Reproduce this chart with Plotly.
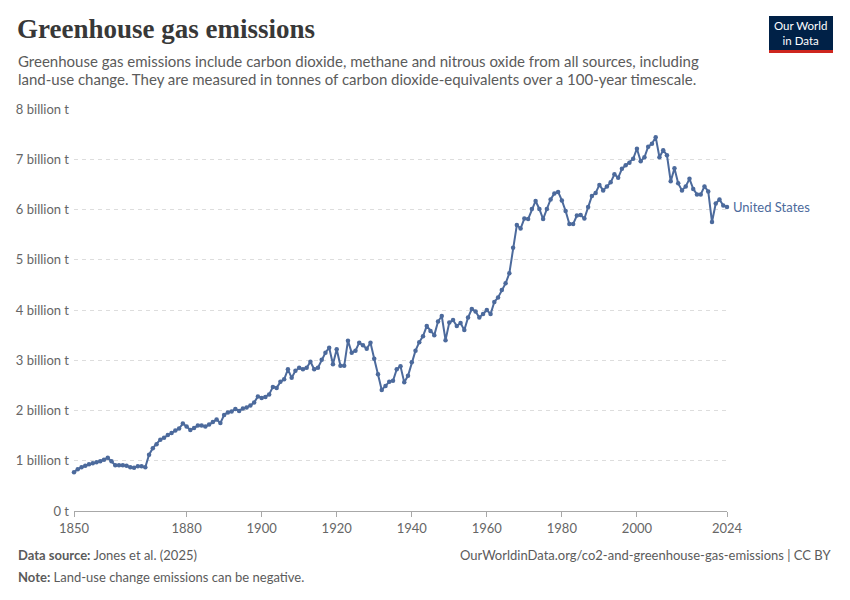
import plotly.graph_objects as go

# US greenhouse gas emissions, billion tonnes CO2-eq
years = list(range(1850, 2025))
emissions = [
    0.77, 0.83, 0.87, 0.90, 0.93, 0.95, 0.97, 0.99, 1.02, 1.06,  # 1850s
    0.99, 0.91, 0.91, 0.91, 0.90, 0.87, 0.86, 0.89, 0.89, 0.87,  # 1860s
    1.12, 1.25, 1.33, 1.42, 1.46, 1.51, 1.55, 1.60, 1.64, 1.74,  # 1870s
    1.68, 1.61, 1.65, 1.70, 1.70, 1.68, 1.72, 1.77, 1.82, 1.75,  # 1880s
    1.91, 1.96, 1.98, 2.03, 1.99, 2.04, 2.06, 2.10, 2.16, 2.28,  # 1890s
    2.25, 2.27, 2.32, 2.47, 2.45, 2.57, 2.62, 2.82, 2.65, 2.79,  # 1900s
    2.85, 2.82, 2.85, 2.97, 2.82, 2.85, 3.01, 3.15, 3.25, 2.92,  # 1910s
    3.22, 2.89, 2.89, 3.39, 3.15, 3.19, 3.35, 3.30, 3.23, 3.35,  # 1920s
    3.03, 2.72, 2.41, 2.49, 2.57, 2.59, 2.82, 2.88, 2.56, 2.69,  # 1930s
    2.96, 3.19, 3.36, 3.48, 3.68, 3.58, 3.50, 3.77, 3.88, 3.40,  # 1940s
    3.75, 3.80, 3.68, 3.74, 3.60, 3.85, 4.02, 3.97, 3.85, 3.92,  # 1950s
    4.00, 3.92, 4.16, 4.25, 4.40, 4.53, 4.73, 5.24, 5.69, 5.62,  # 1960s
    5.82, 5.81, 6.01, 6.17, 6.01, 5.81, 6.01, 6.20, 6.32, 6.35,  # 1970s
    6.18, 5.97, 5.71, 5.71, 5.88, 5.89, 5.82, 6.05, 6.27, 6.33,  # 1980s
    6.49, 6.38, 6.46, 6.54, 6.70, 6.63, 6.81, 6.88, 6.93, 7.01,  # 1990s
    7.21, 6.96, 7.04, 7.25, 7.31, 7.44, 7.04, 7.18, 7.08, 6.56,  # 2000s
    6.82, 6.52, 6.38, 6.46, 6.61, 6.41, 6.30, 6.30, 6.46, 6.36,  # 2010s
    5.75, 6.12, 6.20, 6.08, 6.05,                                # 2020s
]

x_ticks = [1850, 1880, 1900, 1920, 1940, 1960, 1980, 2000, 2024]
y_ticks = [0, 1, 2, 3, 4, 5, 6, 7, 8]
y_labels = ["0 t"] + [f"{v} billion t" for v in y_ticks[1:]]

LINE = "#4c6a9c"
FONT = "Lato"

# plot area in pixels, used to place header/footer text
L, R, T, B = 74, 727, 109, 511


def px(x):
    return (x - L) / (R - L)


def py(y):
    return (B - y) / (B - T)


fig = go.Figure()
fig.add_trace(
    go.Scatter(
        x=years,
        y=emissions,
        mode="lines+markers",
        line=dict(color=LINE, width=2),
        marker=dict(color=LINE, size=4.5),
        cliponaxis=False,
        showlegend=False,
        hovertemplate="%{x}: %{y:.2f} billion t<extra></extra>",
    )
)

annotations = [
    dict(x=px(15), y=py(29), text="<b>Greenhouse gas emissions</b>",
         font=dict(family="Liberation Serif", size=27, color="#383838"),
         xanchor="left", yanchor="middle", showarrow=False),
    dict(x=px(16), y=py(61),
         text="Greenhouse gas emissions include carbon dioxide, methane and nitrous oxide from all sources, including",
         font=dict(family=FONT, size=15, color="#5b5b5b"),
         xanchor="left", yanchor="middle", showarrow=False),
    dict(x=px(16), y=py(79),
         text="land-use change. They are measured in tonnes of carbon dioxide-equivalents over a 100-year timescale.",
         font=dict(family=FONT, size=15, color="#5b5b5b"),
         xanchor="left", yanchor="middle", showarrow=False),
    dict(x=px(801), y=py(33), text="Our World<br>in Data",
         font=dict(family=FONT, size=11.5, color="white"),
         xanchor="center", yanchor="middle", showarrow=False),
    dict(x=2024, y=emissions[-1], xref="x", yref="y", text="United States",
         font=dict(family=FONT, size=13, color=LINE),
         xanchor="left", yanchor="middle", xshift=4, showarrow=False),
    dict(x=px(16), y=py(555),
         text="<b>Data source:</b> Jones et al. (2025)",
         font=dict(family=FONT, size=13, color="#5b5b5b"),
         xanchor="left", yanchor="middle", showarrow=False),
    dict(x=px(833), y=py(555),
         text="OurWorldinData.org/co2-and-greenhouse-gas-emissions | CC BY",
         font=dict(family=FONT, size=13, color="#5b5b5b"),
         xanchor="right", yanchor="middle", showarrow=False),
    dict(x=px(16), y=py(577),
         text="<b>Note:</b> Land-use change emissions can be negative.",
         font=dict(family=FONT, size=13, color="#5b5b5b"),
         xanchor="left", yanchor="middle", showarrow=False),
]
for a in annotations:
    a.setdefault("xref", "paper")
    a.setdefault("yref", "paper")

shapes = [
    dict(type="rect", xref="paper", yref="paper", x0=px(769), x1=px(833),
         y0=py(16), y1=py(50), fillcolor="#002147", line_width=0, layer="above"),
    dict(type="rect", xref="paper", yref="paper", x0=px(769), x1=px(833),
         y0=py(50), y1=py(53), fillcolor="#ce261e", line_width=0, layer="above"),
]

fig.update_layout(
    width=850,
    height=600,
    margin=dict(l=L, r=850 - R, t=T, b=600 - B),
    paper_bgcolor="white",
    plot_bgcolor="white",
    font=dict(family=FONT, size=13, color="#666666"),
    annotations=annotations,
    shapes=shapes,
    xaxis=dict(
        range=[1850, 2024],
        tickvals=x_ticks,
        showgrid=False,
        zeroline=False,
        showline=True,
        linecolor="#a8a8a8",
        ticks="outside",
        ticklen=5,
        tickcolor="#a8a8a8",
        tickfont=dict(size=13, color="#666666"),
    ),
    yaxis=dict(
        range=[0, 8],
        tickvals=y_ticks,
        ticktext=y_labels,
        showgrid=True,
        gridcolor="#dddddd",
        griddash="4px,4px",
        zeroline=False,
        showline=False,
        ticks="",
        ticklabelstandoff=4,
        tickfont=dict(size=13, color="#666666"),
    ),
)

# drop the browser's default body margin so the figure sits at the page corner
fig.write_html(
    "out.html",
    config={"displayModeBar": False},
    post_script="document.body.style.margin='0';",
)
